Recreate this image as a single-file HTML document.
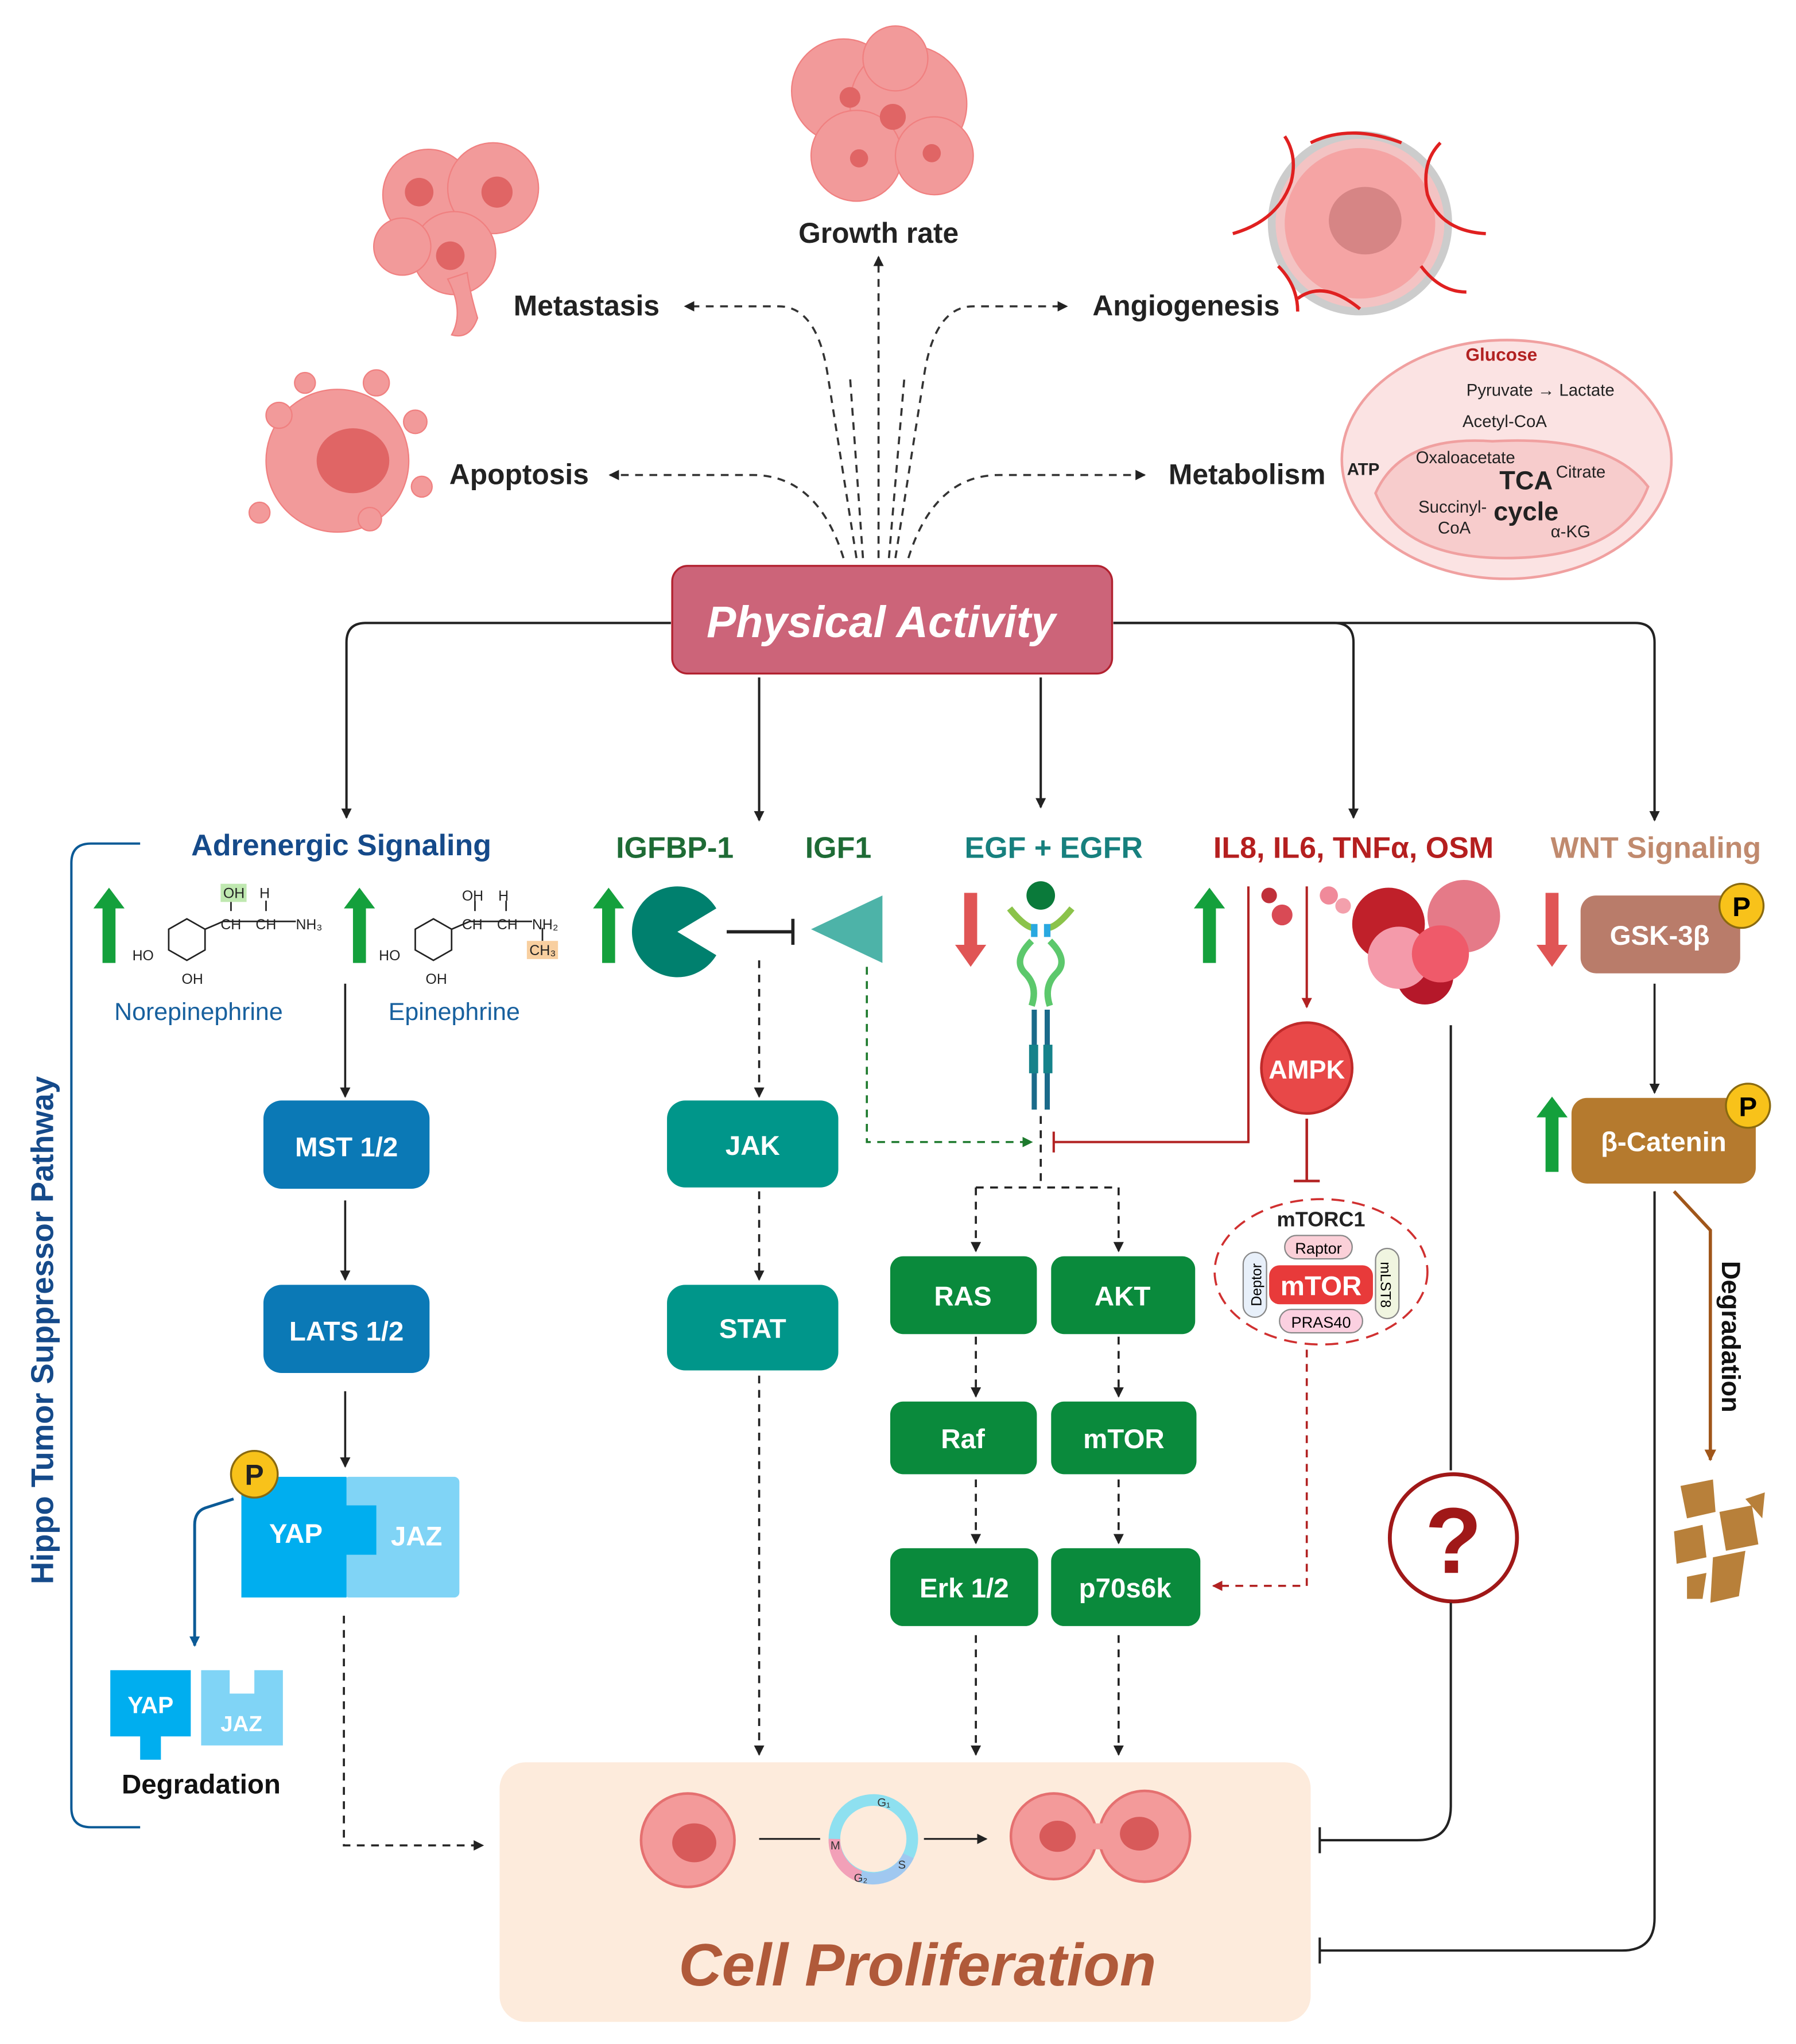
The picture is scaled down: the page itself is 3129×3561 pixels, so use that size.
<!DOCTYPE html>
<html><head><meta charset="utf-8"><style>
html,body{margin:0;padding:0;background:#fff;}
svg{display:block;}
text{font-family:"Liberation Sans",Arial,sans-serif;}
</style></head><body>
<svg width="3129" height="3561" viewBox="0 0 1384 1575" xmlns="http://www.w3.org/2000/svg">
<defs>
<marker id="ak" markerWidth="8" markerHeight="8" refX="7" refY="4" orient="auto" markerUnits="userSpaceOnUse"><path d="M0,0 L8,4 L0,8 z" fill="#222"/></marker>
<marker id="ag" markerWidth="8" markerHeight="8" refX="7" refY="4" orient="auto" markerUnits="userSpaceOnUse"><path d="M0,0 L8,4 L0,8 z" fill="#1d7a2d"/></marker>
<marker id="ar" markerWidth="8" markerHeight="8" refX="7" refY="4" orient="auto" markerUnits="userSpaceOnUse"><path d="M0,0 L8,4 L0,8 z" fill="#b22222"/></marker>
<marker id="ab" markerWidth="8" markerHeight="8" refX="7" refY="4" orient="auto" markerUnits="userSpaceOnUse"><path d="M0,0 L8,4 L0,8 z" fill="#0b5a96"/></marker>
<marker id="abr" markerWidth="9" markerHeight="9" refX="8" refY="4.5" orient="auto" markerUnits="userSpaceOnUse"><path d="M0,0 L9,4.5 L0,9 z" fill="#a0561a"/></marker>
<radialGradient id="cell" cx="50%" cy="50%" r="50%"><stop offset="0" stop-color="#e8666a"/><stop offset="1" stop-color="#f7a3a3"/></radialGradient>
</defs>

<!-- top cell images -->
<g fill="#f29a9a" stroke="#f08080" stroke-width="1">
 <circle cx="330" cy="150" r="35"/><circle cx="380" cy="145" r="35"/><circle cx="350" cy="195" r="32"/><circle cx="310" cy="190" r="22"/>
 <path d="M345,215 Q358,240 348,258 Q362,262 368,245 Q362,225 360,210z"/>
 <circle cx="650" cy="70" r="40"/><circle cx="700" cy="80" r="45"/><circle cx="660" cy="120" r="35"/><circle cx="720" cy="120" r="30"/><circle cx="690" cy="45" r="25"/>
 <circle cx="260" cy="355" r="55"/><circle cx="215" cy="320" r="10"/><circle cx="290" cy="295" r="10"/><circle cx="320" cy="325" r="9"/><circle cx="200" cy="395" r="8"/><circle cx="285" cy="400" r="9"/><circle cx="235" cy="295" r="8"/><circle cx="325" cy="375" r="8"/>
</g>
<g fill="#e06565"><circle cx="323" cy="148" r="11"/><circle cx="383" cy="148" r="12"/><circle cx="347" cy="197" r="11"/><circle cx="688" cy="90" r="10"/><circle cx="655" cy="75" r="8"/><circle cx="662" cy="122" r="7"/><circle cx="718" cy="118" r="7"/><ellipse cx="272" cy="355" rx="28" ry="25"/></g>
<circle cx="1048" cy="172" r="68" fill="#f3c3c3" stroke="#ccc" stroke-width="6"/>
<circle cx="1048" cy="172" r="58" fill="#f5a4a4"/>
<ellipse cx="1052" cy="170" rx="28" ry="26" fill="#d68585"/>
<g stroke="#e02020" stroke-width="2.5" fill="none">
 <path d="M950,180 Q985,170 995,140 Q1000,120 990,105"/><path d="M1145,180 Q1110,178 1100,150 Q1095,125 1110,110"/>
 <path d="M1000,230 Q1020,215 1048,238"/><path d="M1010,110 Q1040,95 1080,110"/><path d="M985,205 Q1000,220 1000,240"/><path d="M1095,205 Q1110,225 1130,225"/>
</g>

<!-- top labels -->
<g font-weight="bold" font-size="22" fill="#222">
 <text x="677" y="187" text-anchor="middle">Growth rate</text>
 <text x="452" y="243" text-anchor="middle">Metastasis</text>
 <text x="914" y="243" text-anchor="middle">Angiogenesis</text>
 <text x="400" y="373" text-anchor="middle">Apoptosis</text>
 <text x="961" y="373" text-anchor="middle">Metabolism</text>
</g>
<g stroke="#333" stroke-width="1.6" stroke-dasharray="6,5" fill="none">
 <path d="M660,430 L638,290 Q630,236 600,236 L528,236" marker-end="url(#ak)"/>
 <path d="M650,430 Q630,366 580,366 L470,366" marker-end="url(#ak)"/>
 <path d="M677,430 L677,198" marker-end="url(#ak)"/>
 <path d="M690,430 L712,290 Q720,236 750,236 L822,236" marker-end="url(#ak)"/>
 <path d="M700,430 Q720,366 770,366 L882,366" marker-end="url(#ak)"/>
 <path d="M665,430 L655,290" /><path d="M685,430 L697,290"/>
</g>

<!-- mitochondria -->
<ellipse cx="1161" cy="354" rx="127" ry="92" fill="#fbe3e3" stroke="#f0a0a0" stroke-width="2"/>
<path d="M1060,380 Q1080,335 1150,340 Q1240,335 1270,375 Q1250,430 1160,430 Q1080,430 1060,380z" fill="#f7cccc" stroke="#f0a0a0" stroke-width="2"/>
<g font-size="13" fill="#222">
 <text x="1157" y="278" text-anchor="middle" font-weight="bold" fill="#b22222" font-size="14">Glucose</text>
 <text x="1130" y="305">Pyruvate → Lactate</text>
 <text x="1127" y="329">Acetyl-CoA</text>
 <text x="1091" y="357">Oxaloacetate</text>
 <text x="1199" y="368">Citrate</text>
 <text x="1038" y="366" font-weight="bold">ATP</text>
 <text x="1093" y="395">Succinyl-</text><text x="1108" y="411">CoA</text>
 <text x="1195" y="414">α-KG</text>
 <text x="1176" y="377" text-anchor="middle" font-weight="bold" font-size="20">TCA</text>
 <text x="1176" y="401" text-anchor="middle" font-weight="bold" font-size="20">cycle</text>
</g>

<!-- Physical activity -->
<rect x="518" y="436" width="339" height="83" rx="12" fill="#cc6479" stroke="#b22230" stroke-width="1.5"/>
<text x="679" y="491" text-anchor="middle" font-size="34" font-weight="bold" font-style="italic" fill="#fff">Physical Activity</text>

<g stroke="#222" stroke-width="1.8" fill="none">
 <path d="M517,480 L282,480 Q267,480 267,495 L267,630" marker-end="url(#ak)"/>
 <path d="M585,522 L585,632" marker-end="url(#ak)"/>
 <path d="M802,522 L802,622" marker-end="url(#ak)"/>
 <path d="M858,480 L1028,480 Q1043,480 1043,495 L1043,630" marker-end="url(#ak)"/>
 <path d="M858,480 L1260,480 Q1275,480 1275,495 L1275,632" marker-end="url(#ak)"/>
</g>

<!-- headers -->
<g font-weight="bold" font-size="23">
 <text x="263" y="659" text-anchor="middle" fill="#154a8a">Adrenergic Signaling</text>
 <text x="520" y="661" text-anchor="middle" fill="#1e6b35">IGFBP-1</text>
 <text x="646" y="661" text-anchor="middle" fill="#1e6b35">IGF1</text>
 <text x="812" y="661" text-anchor="middle" fill="#17807e">EGF + EGFR</text>
 <text x="1043" y="661" text-anchor="middle" fill="#b51f1f">IL8, IL6, TNFα, OSM</text>
 <text x="1276" y="661" text-anchor="middle" fill="#c08a6e">WNT Signaling</text>
</g>

<!-- Hippo bracket -->
<path d="M108,650 L70,650 Q55,650 55,665 L55,1393 Q55,1408 70,1408 L108,1408" fill="none" stroke="#0b5a96" stroke-width="1.8"/>
<text transform="translate(41,1025) rotate(-90)" text-anchor="middle" font-size="24" font-weight="bold" fill="#154a8a">Hippo Tumor Suppressor Pathway</text>

<!-- up/down arrows -->
<g fill="#14a03c">
 <path d="M79,742 L79,700 L72,700 L84,684 L96,700 L89,700 L89,742z"/>
 <path d="M272,742 L272,700 L265,700 L277,684 L289,700 L282,700 L282,742z"/>
 <path d="M464,742 L464,700 L457,700 L469,684 L481,700 L474,700 L474,742z"/>
 <path d="M927,742 L927,700 L920,700 L932,684 L944,700 L937,700 L937,742z"/>
 <path d="M1191,903 L1191,861 L1184,861 L1196,845 L1208,861 L1201,861 L1201,903z"/>
</g>
<g fill="#e05555">
 <path d="M743,688 L743,728 L736,728 L748,745 L760,728 L753,728 L753,688z"/>
 <path d="M1191,688 L1191,728 L1184,728 L1196,745 L1208,728 L1201,728 L1201,688z"/>
</g>

<!-- chemical structures -->
<g stroke="#222" stroke-width="1.2" fill="none">
 <polygon points="130,716 144,708 158,716 158,732 144,740 130,732"/>
 <path d="M158,716 L172,710 L188,710 L204,710 L228,710"/><path d="M178,702 L178,694"/><path d="M205,702 L205,694"/>
 <polygon points="320,716 334,708 348,716 348,732 334,740 320,732"/>
 <path d="M348,716 L362,710 L378,710 L395,710 L410,710"/><path d="M366,702 L366,694"/><path d="M390,702 L390,694"/><path d="M418,715 L418,725"/>
</g>
<rect x="170" y="681" width="20" height="14" fill="#bfe8b0"/>
<rect x="406" y="725" width="24" height="14" fill="#f8cfa0"/>
<g font-size="11" fill="#222">
 <text x="172" y="692">OH</text><text x="200" y="692">H</text><text x="170" y="716">CH</text><text x="197" y="716">CH</text><text x="228" y="716">NH₃</text>
 <text x="102" y="740">HO</text><text x="140" y="758">OH</text>
 <text x="356" y="694">OH</text><text x="384" y="694">H</text><text x="356" y="716">CH</text><text x="383" y="716">CH</text><text x="410" y="716">NH₂</text><text x="408" y="736">CH₃</text>
 <text x="292" y="740">HO</text><text x="328" y="758">OH</text>
</g>
<text x="153" y="786" text-anchor="middle" font-size="19" fill="#17609e">Norepinephrine</text>
<text x="350" y="786" text-anchor="middle" font-size="19" fill="#17609e">Epinephrine</text>

<!-- Hippo boxes -->
<g stroke="#222" stroke-width="1.6" fill="none">
 <path d="M266,758 L266,845" marker-end="url(#ak)"/>
 <path d="M266,925 L266,986" marker-end="url(#ak)"/>
 <path d="M266,1072 L266,1130" marker-end="url(#ak)"/>
</g>
<rect x="203" y="848" width="128" height="68" rx="14" fill="#0b79b6"/>
<text x="267" y="891" text-anchor="middle" font-size="21" font-weight="bold" fill="#fff">MST 1/2</text>
<rect x="203" y="990" width="128" height="68" rx="14" fill="#0b79b6"/>
<text x="267" y="1033" text-anchor="middle" font-size="21" font-weight="bold" fill="#fff">LATS 1/2</text>
<rect x="265" y="1138" width="89" height="93" rx="4" fill="#80d4f6"/>
<path d="M186,1138 L267,1138 L267,1160 L290,1160 L290,1198 L267,1198 L267,1231 L186,1231z" fill="#00aeef"/>
<text x="228" y="1189" text-anchor="middle" font-size="21" font-weight="bold" fill="#fff">YAP</text>
<text x="321" y="1191" text-anchor="middle" font-size="21" font-weight="bold" fill="#fff">JAZ</text>
<circle cx="196" cy="1136" r="18" fill="#f8c21a" stroke="#8a6a10" stroke-width="1.5"/>
<text x="196" y="1144" text-anchor="middle" font-size="22" font-weight="bold" fill="#222">P</text>
<path d="M180,1155 L158,1162 Q150,1165 150,1175 L150,1268" fill="none" stroke="#0b5a96" stroke-width="2.2" marker-end="url(#ab)"/>
<path d="M85,1287 L147,1287 L147,1338 L124,1338 L124,1356 L108,1356 L108,1338 L85,1338z" fill="#00aeef"/>
<text x="116" y="1320" text-anchor="middle" font-size="18" font-weight="bold" fill="#fff">YAP</text>
<path d="M155,1287 L177,1287 L177,1305 L196,1305 L196,1287 L218,1287 L218,1345 L155,1345z" fill="#80d4f6"/>
<text x="186" y="1334" text-anchor="middle" font-size="17" font-weight="bold" fill="#fff">JAZ</text>
<text x="155" y="1382" text-anchor="middle" font-size="21" font-weight="bold" fill="#111">Degradation</text>
<path d="M265,1245 L265,1422 L372,1422" fill="none" stroke="#222" stroke-width="1.6" stroke-dasharray="6,5" marker-end="url(#ak)"/>

<!-- IGF -->
<path d="M522,718 L552,700 A35,35 0 1,0 552,736 Z" fill="#00806e"/>
<path d="M560,718 L610,718 M611,708 L611,728" stroke="#222" stroke-width="2.5"/>
<path d="M625,716 L680,690 L680,742z" fill="#4db3a8"/>
<g stroke="#222" stroke-width="1.6" fill="none" stroke-dasharray="6,5">
 <path d="M585,740 L585,845" marker-end="url(#ak)"/>
 <path d="M585,918 L585,986" marker-end="url(#ak)"/>
 <path d="M585,1060 L585,1352" marker-end="url(#ak)"/>
</g>
<path d="M668,745 L668,880 L795,880" fill="none" stroke="#1d7a2d" stroke-width="1.6" stroke-dasharray="6,5" marker-end="url(#ag)"/>
<rect x="514" y="848" width="132" height="67" rx="14" fill="#00968a"/>
<text x="580" y="890" text-anchor="middle" font-size="21" font-weight="bold" fill="#fff">JAK</text>
<rect x="514" y="990" width="132" height="66" rx="14" fill="#00968a"/>
<text x="580" y="1031" text-anchor="middle" font-size="21" font-weight="bold" fill="#fff">STAT</text>

<!-- EGFR receptor -->
<circle cx="802" cy="690" r="11" fill="#0a7a3a"/>
<g fill="none" stroke-width="5">
 <path d="M778,700 Q790,715 797,715" stroke="#8bc34a"/><path d="M826,700 Q814,715 807,715" stroke="#8bc34a"/>
 <path d="M797,712 L797,722 M807,712 L807,722" stroke="#29a8e0"/>
 <path d="M795,725 Q780,740 790,750 Q800,760 795,775" stroke="#5cc86c"/>
 <path d="M809,725 Q824,740 814,750 Q804,760 809,775" stroke="#5cc86c"/>
 <path d="M797,778 L797,855 M807,778 L807,855" stroke="#1a6a8a" stroke-width="4"/>
</g>
<rect x="793" y="805" width="7" height="22" fill="#15828a"/><rect x="804" y="805" width="7" height="22" fill="#15828a"/>
<path d="M962,683 L962,880 L812,880 M812,872 L812,888" fill="none" stroke="#b22222" stroke-width="1.8"/>
<g stroke="#222" stroke-width="1.6" fill="none" stroke-dasharray="6,5">
 <path d="M802,860 L802,915 M752,915 L862,915"/>
 <path d="M752,915 L752,964" marker-end="url(#ak)"/><path d="M862,915 L862,964" marker-end="url(#ak)"/>
 <path d="M752,1030 L752,1076" marker-end="url(#ak)"/><path d="M862,1030 L862,1076" marker-end="url(#ak)"/>
 <path d="M752,1140 L752,1189" marker-end="url(#ak)"/><path d="M862,1140 L862,1189" marker-end="url(#ak)"/>
 <path d="M752,1260 L752,1352" marker-end="url(#ak)"/><path d="M862,1260 L862,1352" marker-end="url(#ak)"/>
</g>
<g fill="#0a8a3c">
 <rect x="686" y="968" width="113" height="60" rx="10"/><rect x="810" y="968" width="111" height="60" rx="10"/>
 <rect x="686" y="1080" width="113" height="56" rx="10"/><rect x="810" y="1080" width="112" height="56" rx="10"/>
 <rect x="686" y="1193" width="114" height="60" rx="10"/><rect x="810" y="1193" width="115" height="60" rx="10"/>
</g>
<g font-size="21" font-weight="bold" fill="#fff" text-anchor="middle">
 <text x="742" y="1006">RAS</text><text x="865" y="1006">AKT</text>
 <text x="742" y="1116">Raf</text><text x="866" y="1116">mTOR</text>
 <text x="743" y="1231">Erk 1/2</text><text x="867" y="1231">p70s6k</text>
</g>

<!-- cytokine column -->
<g>
 <circle cx="978" cy="690" r="6" fill="#c0303a"/><circle cx="988" cy="705" r="8" fill="#d94a55"/>
 <circle cx="1024" cy="690" r="7" fill="#f08a9a"/><circle cx="1035" cy="698" r="6" fill="#f3a0ac"/>
 <circle cx="1070" cy="712" r="28" fill="#c0202a"/><circle cx="1128" cy="706" r="28" fill="#e57a88"/>
 <circle cx="1098" cy="752" r="22" fill="#b5182a"/><circle cx="1078" cy="738" r="24" fill="#f49aaa"/><circle cx="1110" cy="735" r="22" fill="#ef5a6a"/>
</g>
<path d="M1007,683 L1007,776" stroke="#b22222" stroke-width="1.8" fill="none" marker-end="url(#ar)"/>
<circle cx="1007" cy="823" r="35" fill="#e84848" stroke="#c02a2a" stroke-width="2"/>
<text x="1007" y="831" text-anchor="middle" font-size="20" font-weight="bold" fill="#fff">AMPK</text>
<path d="M1007,862 L1007,910 M997,910 L1017,910" stroke="#b22222" stroke-width="2" fill="none"/>
<ellipse cx="1018" cy="980" rx="82" ry="56" fill="none" stroke="#d03030" stroke-width="1.6" stroke-dasharray="10,6"/>
<text x="1018" y="945" text-anchor="middle" font-size="16" font-weight="bold" fill="#222">mTORC1</text>
<rect x="990" y="952" width="52" height="18" rx="9" fill="#fbd0d8" stroke="#888"/>
<text x="1016" y="966" text-anchor="middle" font-size="12">Raptor</text>
<rect x="978" y="975" width="80" height="30" rx="8" fill="#e83a3a"/>
<text x="1018" y="998" text-anchor="middle" font-size="21" font-weight="bold" fill="#fff">mTOR</text>
<rect x="958" y="965" width="18" height="50" rx="9" fill="#e8f0fa" stroke="#888"/>
<text transform="translate(972,990) rotate(-90)" text-anchor="middle" font-size="11">Deptor</text>
<rect x="1060" y="962" width="18" height="54" rx="9" fill="#f0f5e0" stroke="#888"/>
<text transform="translate(1064,990) rotate(90)" text-anchor="middle" font-size="11">mLST8</text>
<rect x="986" y="1009" width="64" height="18" rx="9" fill="#fbd0e0" stroke="#888"/>
<text x="1018" y="1023" text-anchor="middle" font-size="12">PRAS40</text>
<path d="M1007,1040 L1007,1222 L935,1222" fill="none" stroke="#b22222" stroke-width="1.6" stroke-dasharray="6,5" marker-end="url(#ar)"/>

<path d="M1118,790 L1118,1133" stroke="#222" stroke-width="1.8"/>
<circle cx="1120" cy="1185" r="49" fill="#fff" stroke="#a01818" stroke-width="3"/>
<text x="1120" y="1212" text-anchor="middle" font-size="72" font-weight="bold" fill="#a01818">?</text>
<path d="M1118,1235 L1118,1392 Q1118,1418 1092,1418 L1017,1418 M1017,1408 L1017,1428" stroke="#222" stroke-width="1.8" fill="none"/>

<!-- WNT -->
<rect x="1218" y="690" width="123" height="60" rx="12" fill="#b97c6a"/>
<text x="1279" y="728" text-anchor="middle" font-size="21" font-weight="bold" fill="#fff">GSK-3β</text>
<circle cx="1342" cy="698" r="17" fill="#f8c21a" stroke="#8a6a10" stroke-width="1.5"/>
<text x="1342" y="706" text-anchor="middle" font-size="21" font-weight="bold">P</text>
<path d="M1275,758 L1275,842" stroke="#222" stroke-width="1.6" marker-end="url(#ak)"/>
<rect x="1211" y="846" width="142" height="66" rx="12" fill="#b57a2e"/>
<text x="1282" y="887" text-anchor="middle" font-size="21" font-weight="bold" fill="#fff">β-Catenin</text>
<circle cx="1347" cy="852" r="17" fill="#f8c21a" stroke="#8a6a10" stroke-width="1.5"/>
<text x="1347" y="860" text-anchor="middle" font-size="21" font-weight="bold">P</text>
<path d="M1290,918 L1318,948 L1318,1125" stroke="#a0561a" stroke-width="2.5" fill="none" marker-end="url(#abr)"/>
<text transform="translate(1327,1030) rotate(90)" text-anchor="middle" font-size="20" font-weight="bold" fill="#111">Degradation</text>
<g fill="#b8803a">
 <path d="M1295,1145 L1320,1140 L1322,1165 L1300,1170z"/><path d="M1325,1165 L1350,1160 L1355,1190 L1330,1195z"/>
 <path d="M1290,1180 L1312,1175 L1315,1200 L1292,1205z"/><path d="M1320,1200 L1345,1195 L1340,1230 L1318,1235z"/>
 <path d="M1300,1215 L1315,1212 L1312,1232 L1300,1232z"/><path d="M1345,1155 L1360,1150 L1358,1170z"/>
</g>
<path d="M1275,918 L1275,1478 Q1275,1503 1250,1503 L1017,1503 M1017,1493 L1017,1513" stroke="#222" stroke-width="1.8" fill="none"/>

<!-- Cell proliferation -->
<rect x="385" y="1358" width="625" height="200" rx="20" fill="#fdebdc"/>
<circle cx="530" cy="1418" r="36" fill="#f39a9a" stroke="#e57070" stroke-width="2"/>
<ellipse cx="535" cy="1420" rx="17" ry="15" fill="#d85a5a"/>
<path d="M585,1417 L632,1417" stroke="#222" stroke-width="1.4"/>
<circle cx="673" cy="1417" r="30" fill="none" stroke="#8ee0f0" stroke-width="9"/>
<path d="M643,1417 A30,30 0 0,0 663,1446" fill="none" stroke="#f2a0b8" stroke-width="9"/>
<path d="M663,1446 A30,30 0 0,0 700,1430" fill="none" stroke="#a0c8f0" stroke-width="9"/>
<g font-size="9" fill="#333"><text x="676" y="1392">G₁</text><text x="640" y="1425">M</text><text x="658" y="1450">G₂</text><text x="692" y="1440">S</text></g>
<path d="M712,1417 L760,1417" stroke="#222" stroke-width="1.4" marker-end="url(#ak)"/>
<circle cx="812" cy="1415" r="33" fill="#f39a9a" stroke="#e57070" stroke-width="2"/>
<circle cx="882" cy="1415" r="35" fill="#f39a9a" stroke="#e57070" stroke-width="2"/>
<rect x="830" y="1405" width="40" height="20" fill="#f39a9a"/>
<ellipse cx="815" cy="1415" rx="14" ry="12" fill="#d85a5a"/><ellipse cx="878" cy="1413" rx="15" ry="13" fill="#d85a5a"/>
<text x="707" y="1530" text-anchor="middle" font-size="46" font-weight="bold" font-style="italic" fill="#b05a3a">Cell Proliferation</text>
</svg>
</body></html>
